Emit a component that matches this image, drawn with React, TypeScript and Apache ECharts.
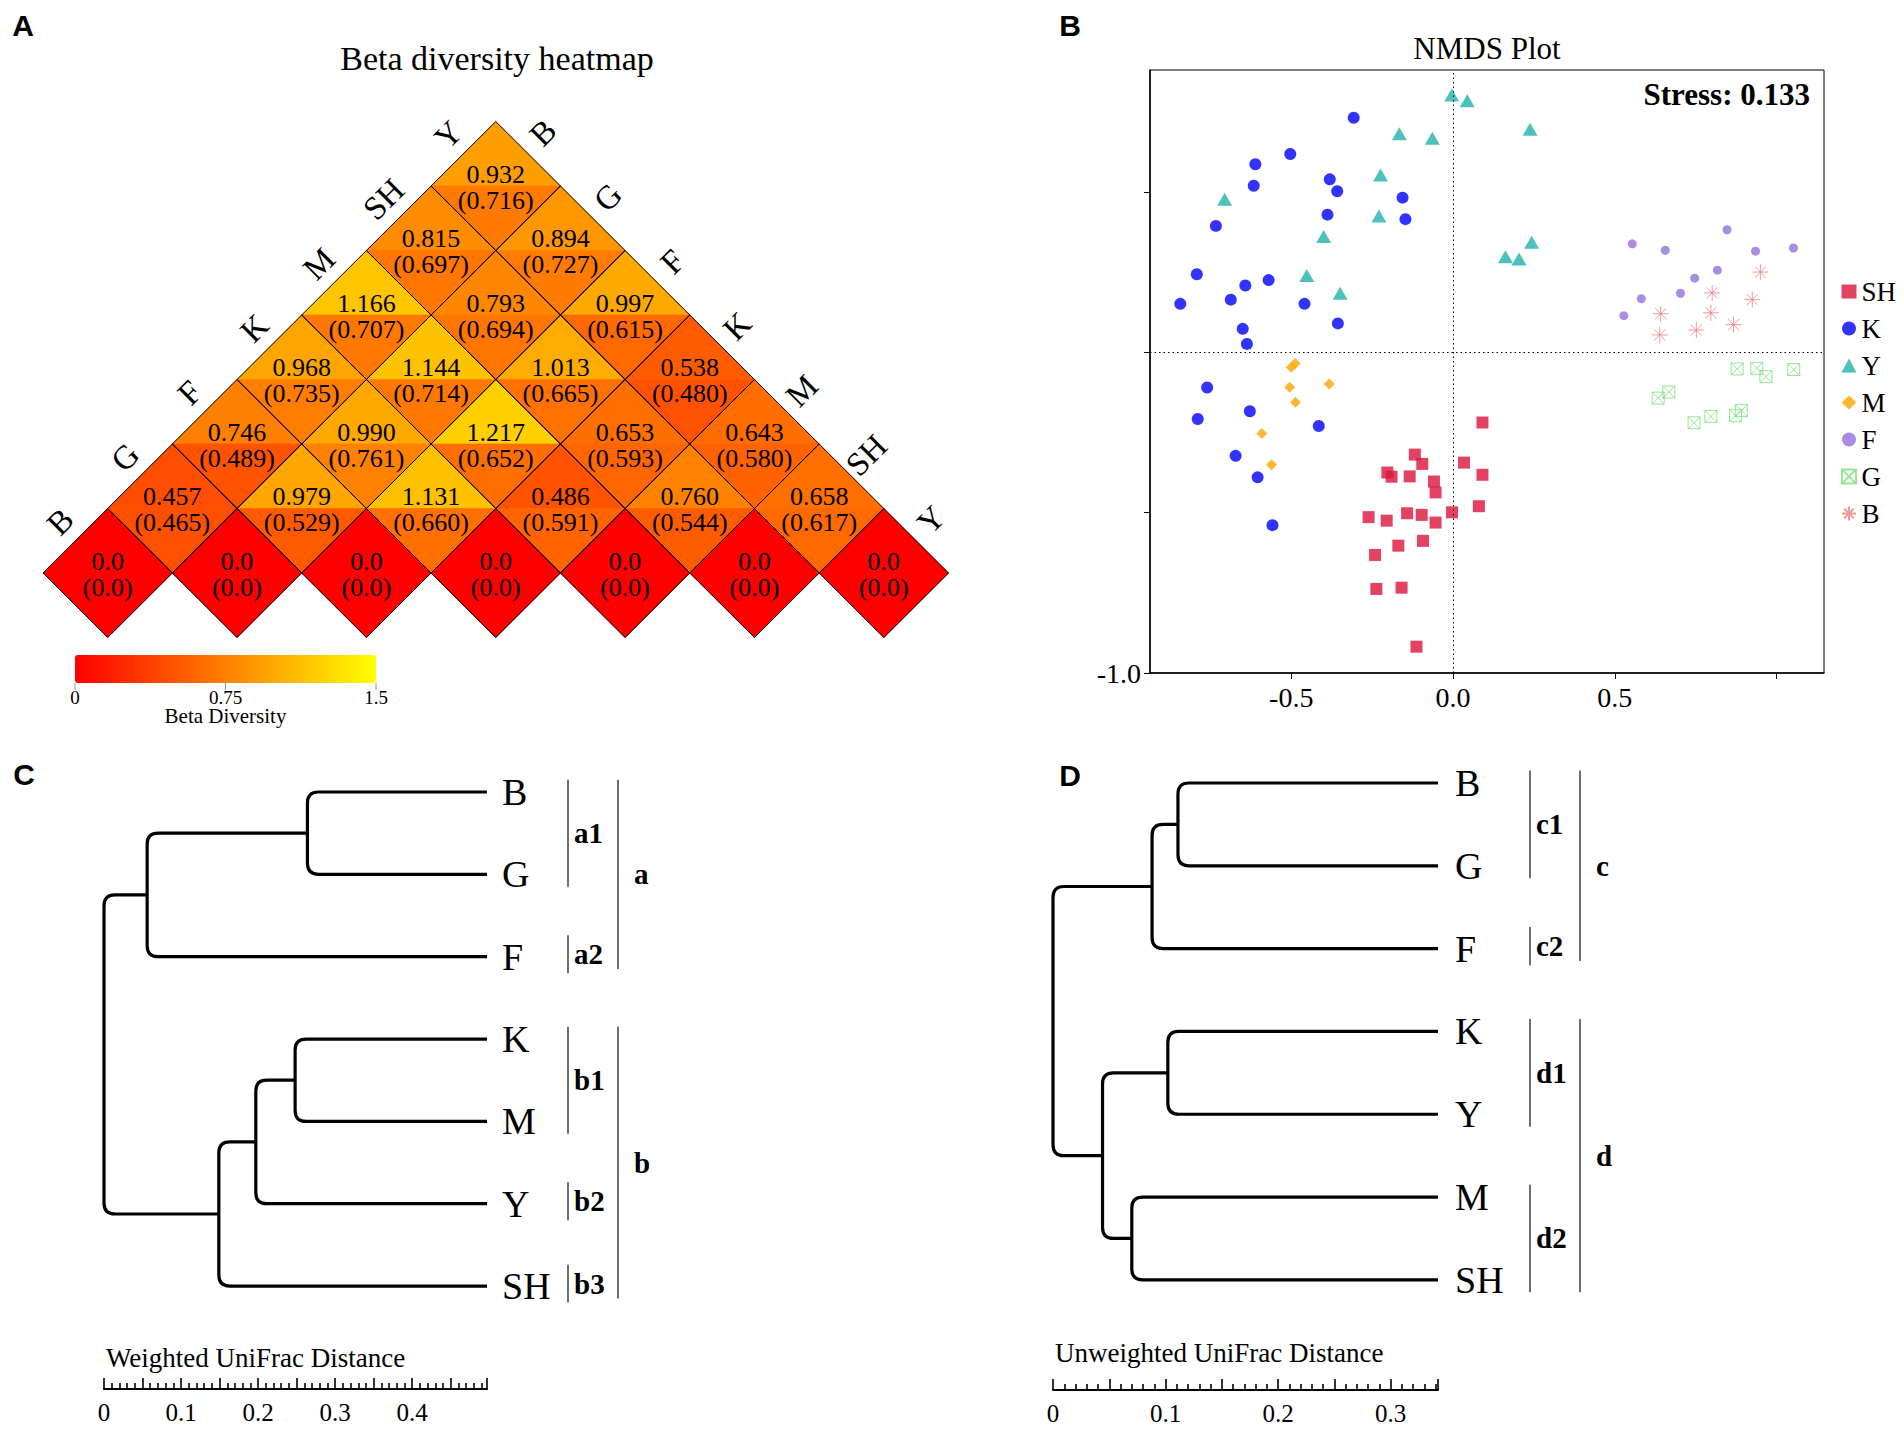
import React, { useEffect, useRef } from 'react';
import * as echarts from 'echarts';

const SERIF = '"Liberation Serif", "Times New Roman", Times, serif';
const SANS = '"Liberation Sans", Arial, Helvetica, sans-serif';

// ---------- Panel A: beta diversity heatmap ----------
const heatSamples = ['B', 'G', 'F', 'K', 'M', 'SH', 'Y'];
// row r holds the pairs (sample i, sample i + r); upper value and (lower) value
const heatUpper: number[][] = [
  [0, 0, 0, 0, 0, 0, 0],
  [0.457, 0.979, 1.131, 0.486, 0.760, 0.658],
  [0.746, 0.990, 1.217, 0.653, 0.643],
  [0.968, 1.144, 1.013, 0.538],
  [1.166, 0.793, 0.997],
  [0.815, 0.894],
  [0.932],
];
const heatLower: number[][] = [
  [0, 0, 0, 0, 0, 0, 0],
  [0.465, 0.529, 0.660, 0.591, 0.544, 0.617],
  [0.489, 0.761, 0.652, 0.593, 0.580],
  [0.735, 0.714, 0.665, 0.480],
  [0.707, 0.694, 0.615],
  [0.697, 0.727],
  [0.716],
];
const heatColors = ['#ff0000', '#ffff00'];
const heatScaleMin = 0;
const heatScaleMax = 1.5;
const heatScaleTicks = [0, 0.75, 1.5];
const heatScaleTickLabels = ['0', '0.75', '1.5'];

// ---------- Panel B: NMDS ----------
const nmdsNames = ['SH', 'K', 'Y', 'M', 'F', 'G', 'B'];
const nmdsSH = [
  [0.091, -0.219], [-0.118, -0.319], [-0.095, -0.348], [0.034, -0.344], [-0.203, -0.375],
  [-0.190, -0.388], [-0.134, -0.387], [-0.059, -0.403], [-0.054, -0.437], [0.091, -0.382],
  [0.080, -0.480], [-0.003, -0.499], [-0.261, -0.514], [-0.205, -0.525], [-0.142, -0.502],
  [-0.097, -0.507], [-0.054, -0.531], [-0.093, -0.588], [-0.169, -0.603], [-0.241, -0.632],
  [-0.237, -0.738], [-0.159, -0.734], [-0.113, -0.918],
];
const nmdsK = [
  [-0.307, 0.731], [-0.503, 0.618], [-0.611, 0.586], [-0.616, 0.519], [-0.381, 0.539],
  [-0.358, 0.502], [-0.156, 0.482], [-0.388, 0.429], [-0.147, 0.415], [-0.733, 0.394],
  [-0.792, 0.243], [-0.642, 0.208], [-0.570, 0.225], [-0.843, 0.151], [-0.687, 0.164],
  [-0.459, 0.151], [-0.356, 0.090], [-0.650, 0.073], [-0.637, 0.026], [-0.760, -0.110],
  [-0.789, -0.208], [-0.628, -0.184], [-0.415, -0.230], [-0.672, -0.323], [-0.604, -0.390],
  [-0.558, -0.539],
];
const nmdsY = [
  [-0.004, 0.802], [0.044, 0.784], [-0.166, 0.681], [-0.064, 0.667], [-0.224, 0.553],
  [-0.706, 0.477], [-0.229, 0.425], [-0.400, 0.361], [-0.452, 0.239], [-0.349, 0.184],
  [0.238, 0.695], [0.243, 0.343], [0.162, 0.298], [0.204, 0.291],
];
const nmdsM = [
  [-0.488, -0.035], [-0.500, -0.047], [-0.505, -0.109], [-0.383, -0.099], [-0.487, -0.156],
  [-0.591, -0.253], [-0.561, -0.351],
];
const nmdsF = [
  [0.554, 0.338], [0.656, 0.318], [0.847, 0.382], [0.935, 0.315], [1.052, 0.325],
  [0.817, 0.256], [0.747, 0.231], [0.703, 0.184], [0.582, 0.167], [0.528, 0.114],
];
const nmdsG = [
  [0.878, -0.052], [0.939, -0.050], [0.967, -0.076], [1.053, -0.054], [0.667, -0.124],
  [0.634, -0.143], [0.891, -0.182], [0.873, -0.198], [0.797, -0.200], [0.745, -0.220],
];
const nmdsB = [
  [0.950, 0.250], [0.801, 0.185], [0.925, 0.164], [0.642, 0.120], [0.797, 0.123],
  [0.867, 0.086], [0.752, 0.069], [0.639, 0.054],
];
const nmdsStress = 0.133;
const nmdsXTicks = [-0.5, 0, 0.5, 1.0];
const nmdsXLabels = [-0.5, 0, 0.5];
const nmdsYTicks = [-1.0, -0.5, 0, 0.5];
const nmdsYLabels = [-1.0];

// ---------- Panel C: weighted UniFrac dendrogram ----------
const wLeaves = ['B', 'G', 'F', 'K', 'M', 'Y', 'SH'];
const wLeafHeight = 0.497;
// [childA, childB, node position on the distance scale]; leaves 0..6, merges numbered from 7
const wMerges = [[0, 1, 0.264], [7, 2, 0.056], [3, 4, 0.248], [9, 5, 0.197], [10, 6, 0.149], [8, 11, 0.0]];
// [label, first leaf, last leaf, level]
const wGroups: [string, number, number, number][] = [
  ['a1', 0, 1, 0], ['a2', 2, 2, 0], ['a', 0, 2, 1],
  ['b1', 3, 4, 0], ['b2', 5, 5, 0], ['b3', 6, 6, 0], ['b', 3, 6, 1],
];
const wScaleLabels = [0, 0.1, 0.2, 0.3, 0.4];

// ---------- Panel D: unweighted UniFrac dendrogram ----------
const uLeaves = ['B', 'G', 'F', 'K', 'Y', 'M', 'SH'];
const uLeafHeight = 0.342;
const uMerges = [[0, 1, 0.111], [7, 2, 0.088], [3, 4, 0.102], [5, 6, 0.070], [9, 10, 0.044], [8, 11, 0.0]];
const uGroups: [string, number, number, number][] = [
  ['c1', 0, 1, 0], ['c2', 2, 2, 0], ['c', 0, 2, 1],
  ['d1', 3, 4, 0], ['d2', 5, 6, 0], ['d', 3, 6, 1],
];
const uScaleLabels = [0, 0.1, 0.2, 0.3];

// ---------- helpers ----------
function txt(text: string, x: number, y: number, size: number, o: any = {}) {
  const align = o.align || 'left';
  return {
    type: 'text', x, y, silent: true, rotation: o.rotation || 0,
    style: {
      text, fill: '#000',
      font: `${o.weight || 'normal'} ${size}px ${o.family || SERIF}`,
      align, textAlign: align, verticalAlign: 'middle', textVerticalAlign: 'middle',
    },
  };
}

function dendroLinks(nLeaves: number, leafHeight: number, merges: number[][]) {
  const pos: number[][] = [];
  for (let i = 0; i < nLeaves; i++) pos.push([leafHeight, i]);
  const links: number[][] = [];
  merges.forEach(([a, b, h]) => {
    const pa = pos[a], pb = pos[b];
    links.push([pa[0], pa[1], h, pb[1], pb[0]]);
    pos.push([h, (pa[1] + pb[1]) / 2]);
  });
  return links;
}

function dendroRender(params: any, api: any) {
  const xA = api.value(0), yA = api.value(1), xM = api.value(2), yB = api.value(3), xB = api.value(4);
  const pA = api.coord([xA, yA]);
  const m1 = api.coord([xM, yA]);
  const m2 = api.coord([xM, yB]);
  const pB = api.coord([xB, yB]);
  const r = Math.max(0, Math.min(11, (m2[1] - m1[1]) / 2, pA[0] - m1[0], pB[0] - m2[0]));
  const d = `M${pA[0]},${pA[1]}L${m1[0] + r},${m1[1]}Q${m1[0]},${m1[1]} ${m1[0]},${m1[1] + r}` +
    `L${m2[0]},${m2[1] - r}Q${m2[0]},${m2[1]} ${m2[0] + r},${m2[1]}L${pB[0]},${pB[1]}`;
  return {
    type: 'path', shape: { pathData: d },
    style: { fill: 'none', stroke: '#000', lineWidth: 3.2, lineJoin: 'round', lineCap: 'butt' },
  };
}

function bracketRender(groups: [string, number, number, number][], leafHeight: number, innerOff: number, outerOff: number) {
  return (params: any, api: any) => {
    const g = groups[params.dataIndex];
    const first = api.value(0), last = api.value(1), level = api.value(2);
    const single = first === last;
    const top = api.coord([leafHeight, first - (single ? 0.26 : 0.15)]);
    const bot = api.coord([leafHeight, last + (single ? 0.2 : 0.15)]);
    const x = top[0] + (level === 0 ? innerOff : outerOff);
    const mid = (top[1] + bot[1]) / 2;
    return {
      type: 'group',
      children: [
        { type: 'line', shape: { x1: x, y1: top[1], x2: x, y2: bot[1] }, style: { stroke: '#222', lineWidth: 1.3 } },
        {
          type: 'text', x: x + (level === 0 ? 6 : 16), y: mid,
          style: {
            text: g[0], fill: '#000', font: `bold 29px ${SERIF}`,
            align: 'left', textAlign: 'left', verticalAlign: 'middle', textVerticalAlign: 'middle',
          },
        },
      ],
    };
  };
}

// ---------- heatmap data ----------
const heatFill: number[][] = [];
const heatFrame: number[][] = [];
const heatFrameText: string[][] = [];
heatUpper.forEach((row, r) => row.forEach((v, i) => {
  const cx = i + r / 2, cy = r;
  const lo = heatLower[r][i];
  heatFill.push([cx, cy, v, 0], [cx, cy, lo, 1]);
  heatFrame.push([cx, cy, v, 2]);
  heatFrameText.push(r === 0 ? ['0.0', '(0.0)'] : [v.toFixed(3), `(${lo.toFixed(3)})`]);
}));
const heatData = heatFill.concat(heatFrame);

const nTop = heatSamples.length - 1;
const heatLabelData: number[][] = [];
heatSamples.forEach((_, k) => heatLabelData.push([k / 2 - 0.25, k + 0.5, -1]));
heatSamples.forEach((_, j) => {
  const r = nTop - j;
  heatLabelData.push([j + r / 2 + 0.25, r + 0.5, 1]);
});

const CB_LEFT = 75, CB_TOP = 655, CB_LEN = 301, CB_THICK = 28;

function buildOption() {
  const fmt1 = (v: any) => Number(v).toFixed(1);
  const scaleFmt = (v: any) => (Number(v) === 0 ? '0' : Number(v).toFixed(1));

  const scaleAxis = (grid: number, max: number, labels: number[]) => ({
    type: 'value', gridIndex: grid, min: 0, max, interval: 0.05, position: 'bottom',
    axisLine: { show: true, onZero: false, lineStyle: { color: '#000', width: 2.2 } },
    axisTick: { show: true, inside: true, length: 11, lineStyle: { color: '#000', width: 1.6 } },
    minorTick: { show: true, splitNumber: 5, length: 6, lineStyle: { color: '#000', width: 1.6 } },
    axisLabel: { customValues: labels, formatter: scaleFmt, fontSize: 25, fontFamily: SERIF, color: '#000', margin: 11 },
    splitLine: { show: false }, minorSplitLine: { show: false },
  });

  const leafAxis = (grid: number, max: number, leaves: string[], margin: number) => ({
    type: 'value', gridIndex: grid, min: 0, max, inverse: true, position: 'right',
    axisLine: { show: false }, axisTick: { show: false }, splitLine: { show: false },
    axisLabel: {
      customValues: leaves.map((_, i) => i), formatter: (v: any) => leaves[Math.round(Number(v))],
      fontSize: 38, fontFamily: SERIF, color: '#000', margin,
    },
  });

  const graphics: any[] = [
    txt('A', 23, 25, 30, { weight: 'bold', family: SANS, align: 'center' }),
    txt('B', 1070, 25, 30, { weight: 'bold', family: SANS, align: 'center' }),
    txt('C', 24, 774, 30, { weight: 'bold', family: SANS, align: 'center' }),
    txt('D', 1070, 775, 30, { weight: 'bold', family: SANS, align: 'center' }),
    txt('Beta diversity heatmap', 497, 58, 34, { align: 'center' }),
    txt('Beta Diversity', CB_LEFT + CB_LEN / 2, 716, 21, { align: 'center' }),
    txt('NMDS Plot', 1487, 48, 31, { align: 'center' }),
    txt(`Stress: ${nmdsStress.toFixed(3)}`, 1810, 94, 31, { weight: 'bold', align: 'right' }),
    txt('Weighted UniFrac Distance', 106, 1358, 27),
    txt('Unweighted UniFrac Distance', 1055, 1353, 27),
  ];
  heatScaleTicks.forEach((v, i) => {
    const x = CB_LEFT + ((v - heatScaleMin) / (heatScaleMax - heatScaleMin)) * CB_LEN;
    graphics.push({ type: 'line', silent: true, shape: { x1: x, y1: CB_TOP + CB_THICK, x2: x, y2: CB_TOP + CB_THICK + 7 }, style: { stroke: '#999', lineWidth: 1 } });
    graphics.push(txt(heatScaleTickLabels[i], x, 697, 19, { align: 'center' }));
  });

  const scatterBase = { type: 'scatter', xAxisIndex: 1, yAxisIndex: 1 };

  return {
    animation: false,
    backgroundColor: '#ffffff',
    grid: [
      { left: 43, top: 121.5, width: 905.5, height: 516, show: false, outerBoundsMode: 'none' },
      { left: 1150, top: 70, width: 674, height: 603, show: true, borderColor: '#000', borderWidth: 1, backgroundColor: 'transparent', outerBoundsMode: 'none' },
      { left: 104, top: 792, width: 383, height: 597, show: false, outerBoundsMode: 'none' },
      { left: 1053, top: 783, width: 385, height: 607, show: false, outerBoundsMode: 'none' },
    ],
    xAxis: [
      { type: 'value', gridIndex: 0, min: -0.5, max: heatSamples.length - 0.5, show: false },
      {
        type: 'value', gridIndex: 1, min: -0.9366, max: 1.1466, position: 'bottom',
        axisLine: { show: true, onZero: false, lineStyle: { color: '#000', width: 1.5 } },
        axisTick: { show: true, customValues: nmdsXTicks, length: 6, lineStyle: { color: '#000', width: 1 } },
        axisLabel: { customValues: nmdsXLabels, formatter: fmt1, fontSize: 28, fontFamily: SERIF, color: '#000', margin: 10 },
        splitLine: { show: false },
      },
      scaleAxis(2, wLeafHeight, wScaleLabels),
      scaleAxis(3, uLeafHeight, uScaleLabels),
    ],
    yAxis: [
      { type: 'value', gridIndex: 0, min: -1, max: heatSamples.length, show: false },
      {
        type: 'value', gridIndex: 1, min: -1, max: 0.88, position: 'left',
        axisLine: { show: true, onZero: false, lineStyle: { color: '#000', width: 1.5 } },
        axisTick: { show: true, customValues: nmdsYTicks, length: 6, lineStyle: { color: '#000', width: 1 } },
        axisLabel: { customValues: nmdsYLabels, formatter: fmt1, fontSize: 28, fontFamily: SERIF, color: '#000', margin: 9 },
        splitLine: { show: false },
      },
      leafAxis(2, 7.25, wLeaves, 15),
      leafAxis(3, 7.33, uLeaves, 17),
    ],
    visualMap: [{
      type: 'continuous', seriesIndex: 0, dimension: 2, min: heatScaleMin, max: heatScaleMax,
      orient: 'horizontal', left: CB_LEFT, top: CB_TOP, itemWidth: CB_THICK, itemHeight: CB_LEN,
      padding: 0, calculable: false, realtime: false, hoverLink: false, showLabel: false,
      inRange: { color: heatColors },
      textStyle: { fontSize: 0, color: 'transparent' },
    }],
    legend: {
      data: nmdsNames, orient: 'vertical', left: 1836, top: 273,
      itemWidth: 15, itemHeight: 14, itemGap: 10, selectedMode: false,
      textStyle: { fontSize: 27, fontFamily: SERIF, color: '#000', lineHeight: 27 },
    },
    series: [
      {
        type: 'custom', name: 'heat', xAxisIndex: 0, yAxisIndex: 0, data: heatData, silent: true,
        renderItem: (params: any, api: any) => {
          const cx = api.value(0), cy = api.value(1), part = api.value(3);
          const L = api.coord([cx - 0.5, cy]);
          const R = api.coord([cx + 0.5, cy]);
          const T = api.coord([cx, cy + 1]);
          const B = api.coord([cx, cy - 1]);
          if (part === 0 || part === 1) {
            const color = api.visual('color');
            return {
              type: 'polygon', shape: { points: part === 0 ? [L, T, R] : [L, B, R] },
              style: { fill: color, stroke: color, lineWidth: 0.7 },
            };
          }
          const C = api.coord([cx, cy]);
          const t = heatFrameText[params.dataIndex - heatFill.length];
          const ts = (text: string, y: number) => ({
            type: 'text', x: C[0], y,
            style: { text, fill: '#000', font: `26px ${SERIF}`, align: 'center', textAlign: 'center', verticalAlign: 'middle', textVerticalAlign: 'middle' },
          });
          return {
            type: 'group',
            children: [
              { type: 'polygon', shape: { points: [L, T, R, B] }, style: { fill: 'none', stroke: '#000', lineWidth: 1 } },
              ts(t[0], C[1] - 12),
              ts(t[1], C[1] + 14),
            ],
          };
        },
      },
      {
        type: 'custom', name: 'heatLabels', xAxisIndex: 0, yAxisIndex: 0, data: heatLabelData, silent: true,
        renderItem: (params: any, api: any) => {
          const p = api.coord([api.value(0), api.value(1)]);
          const side = api.value(2);
          const name = heatSamples[params.dataIndex % heatSamples.length];
          const off = side < 0 ? [-15, -19] : [15, -21];
          return {
            type: 'text', x: p[0] + off[0], y: p[1] + off[1], rotation: Math.PI / 4,
            style: { text: name, fill: '#000', font: `33px ${SERIF}`, align: 'center', textAlign: 'center', verticalAlign: 'middle', textVerticalAlign: 'middle' },
          };
        },
      },
      {
        ...scatterBase, name: 'SH', data: nmdsSH, symbol: 'rect', symbolSize: 12, itemStyle: { color: '#DC143C' },
        markLine: {
          silent: true, symbol: ['none', 'none'], label: { show: false }, animation: false,
          lineStyle: { type: [1.5, 3], color: '#000', width: 1 },
          emphasis: { disabled: true },
          data: [{ xAxis: 0 }, { yAxis: 0 }],
        },
      },
      { ...scatterBase, name: 'K', data: nmdsK, symbol: 'circle', symbolSize: 12, itemStyle: { color: '#0000FF' } },
      { ...scatterBase, name: 'Y', data: nmdsY, symbol: 'triangle', symbolSize: [15, 13], itemStyle: { color: '#20B2AA' } },
      { ...scatterBase, name: 'M', data: nmdsM, symbol: 'diamond', symbolSize: [11, 11], itemStyle: { color: '#FFA500' } },
      { ...scatterBase, name: 'F', data: nmdsF, symbol: 'circle', symbolSize: 9, itemStyle: { color: '#9370DB' } },
      {
        ...scatterBase, name: 'G', data: nmdsG, symbol: 'path://M0,0L20,0L20,20L0,20ZM0,0L20,20M20,0L0,20', symbolSize: 12,
        itemStyle: { color: 'rgba(0,0,0,0)', borderColor: '#7CE07C', borderWidth: 1 },
      },
      {
        ...scatterBase, name: 'B', data: nmdsB, symbol: 'path://M10,0L10,20M0,10L20,10M3,3L17,17M17,3L3,17', symbolSize: 16,
        itemStyle: { color: 'rgba(0,0,0,0)', borderColor: '#F08080', borderWidth: 1 },
      },
      {
        type: 'custom', name: 'dendroW', xAxisIndex: 2, yAxisIndex: 2, silent: true,
        data: dendroLinks(wLeaves.length, wLeafHeight, wMerges), renderItem: dendroRender,
      },
      {
        type: 'custom', name: 'groupsW', xAxisIndex: 2, yAxisIndex: 2, silent: true,
        data: wGroups.map((g) => [g[1], g[2], g[3]]), renderItem: bracketRender(wGroups, wLeafHeight, 81, 131),
      },
      {
        type: 'custom', name: 'dendroU', xAxisIndex: 3, yAxisIndex: 3, silent: true,
        data: dendroLinks(uLeaves.length, uLeafHeight, uMerges), renderItem: dendroRender,
      },
      {
        type: 'custom', name: 'groupsU', xAxisIndex: 3, yAxisIndex: 3, silent: true,
        data: uGroups.map((g) => [g[1], g[2], g[3]]), renderItem: bracketRender(uGroups, uLeafHeight, 92, 142),
      },
    ],
    graphic: { elements: graphics },
  };
}

export default function App() {
  const ref = useRef<HTMLDivElement>(null);
  useEffect(() => {
    if (!ref.current) return;
    const chart = echarts.init(ref.current, null, { renderer: 'svg' });
    chart.setOption(buildOption() as any);
    return () => chart.dispose();
  }, []);
  return (
    <div
      ref={ref}
      style={{ position: 'absolute', left: 0, top: 0, width: 1904, height: 1429, background: '#fff' }}
    />
  );
}
